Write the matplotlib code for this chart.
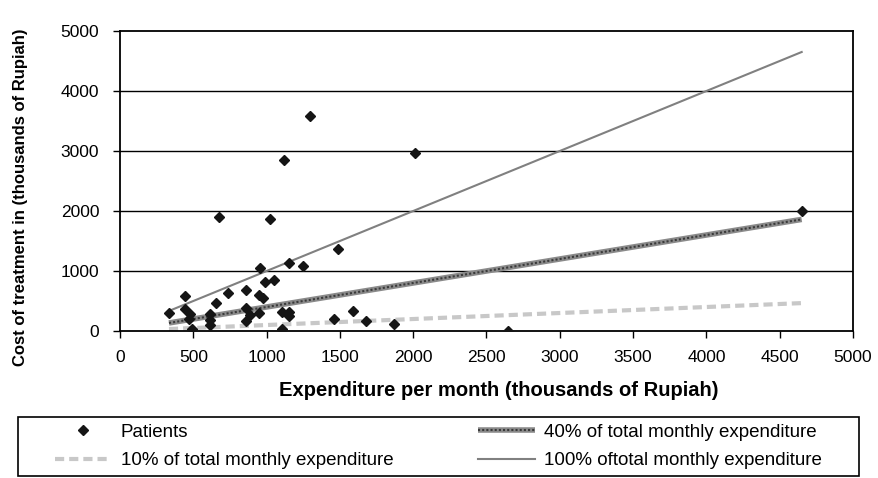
import matplotlib
matplotlib.use('Agg')
import matplotlib.pyplot as plt
from matplotlib.patches import Rectangle

plt.rcParams['font.family'] = ['Liberation Sans', 'DejaVu Sans']

# patients: expenditure per month vs cost of treatment (thousands of Rupiah)
expenditure = [334, 446, 446, 477, 473, 493, 614, 614, 614, 655, 675, 734,
               857, 857, 857, 887, 955, 950, 973, 950, 989, 1052, 1023, 1118,
               1102, 1152, 1152, 1102, 1155, 1250, 1296, 1485, 1458, 1587,
               1678, 1869, 2010, 2648, 4650]
cost = [305, 583, 361, 283, 200, 28, 283, 183, 100, 461, 1905, 628,
        683, 378, 172, 267, 1045, 600, 555, 305, 822, 850, 1862, 2850,
        322, 322, 250, 28, 1138, 1088, 3589, 1367, 200, 333,
        172, 111, 2972, 5, 2000]

# reference lines (endpoints)
line_x = [334, 4650]
pct100 = [334, 4650]
pct40 = [134, 1860]
pct10 = [33, 465]

W, H = 879, 478
fig = plt.figure(figsize=(W/100, H/100), dpi=100)
ax = fig.add_axes([120/W, 1-331/H, (853-120)/W, 300/H])

for yv in [1000, 2000, 3000, 4000]:
    ax.axhline(yv, color='black', lw=1.0, zorder=1)

l10, = ax.plot(line_x, pct10, color='#c8c8c8', lw=3, linestyle=(0, (2.2, 1.2)),
               zorder=2)
l40a, = ax.plot(line_x, pct40, color='#8a8a8a', lw=4, solid_capstyle='butt',
                zorder=3)
l40b, = ax.plot(line_x, pct40, color='#3a3a3a', lw=1.5, linestyle=(0, (1, 1)),
                zorder=3)
l100, = ax.plot(line_x, pct100, color='#808080', lw=1.5, zorder=3)
pts, = ax.plot(expenditure, cost, linestyle='none', marker='D', markersize=5.5,
               color='#151515', zorder=4)

ax.set_xlim(0, 5000)
ax.set_ylim(0, 5000)
ax.set_xticks(range(0, 5001, 500))
ax.set_yticks(range(0, 5001, 1000))
ax.tick_params(axis='both', direction='out', length=5, width=1,
               labelsize=12.5, color='black')
ax.tick_params(axis='x', pad=9)
ax.tick_params(axis='y', pad=10)
for s in ax.spines.values():
    s.set_linewidth(1.3)

ax.set_xlabel('Expenditure per month (thousands of Rupiah)', fontsize=14.5,
              fontweight='bold')
ax.xaxis.set_label_coords((499-120)/733, -(381-331)/300)
ax.set_ylabel('Cost of treatment in (thousands of Rupiah)', fontsize=12,
              fontweight='bold')
ax.yaxis.set_label_coords((28-120)/733, (331-197)/300)

# legend frame drawn separately so the columns can sit inside it like the original
fig.patches.append(Rectangle((18/W, 1-476/H), 841/W, 59/H, transform=fig.transFigure,
                             fill=False, edgecolor='black', lw=1.2))
leg = fig.legend([pts, l10, (l40a, l40b), l100],
                 ['Patients', '10% of total monthly expenditure',
                  '40% of total monthly expenditure',
                  '100% oftotal monthly expenditure'],
                 ncol=2, mode='expand',
                 bbox_to_anchor=(55/W, 1-476/H, 767/W, 59/H),
                 loc='center', fontsize=13.5, frameon=False,
                 borderaxespad=0, borderpad=0,
                 handlelength=3.0, handletextpad=0.5, labelspacing=0.6)

fig.savefig('out.png', dpi=100)
